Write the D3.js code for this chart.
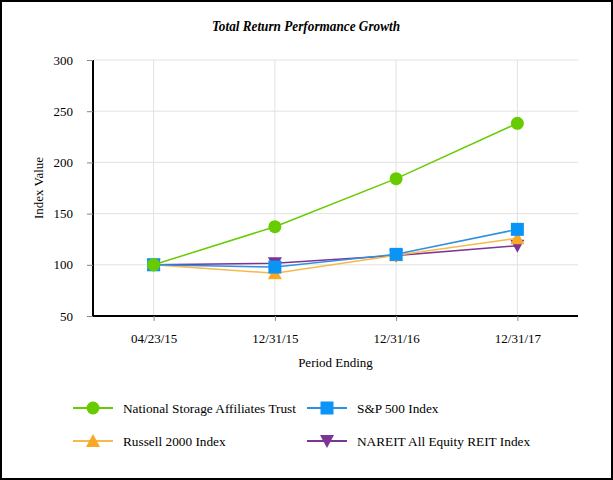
<!DOCTYPE html>
<html><head><meta charset="utf-8">
<script src="https://cdn.jsdelivr.net/npm/d3@7"></script>
<style>body{margin:0;background:#fff;}svg{display:block;} svg text{font-family:"Liberation Serif","Times New Roman",Times,serif;}</style>
</head><body>
<svg id="c" width="613" height="480"></svg>
<script>
const categories = ["04/23/15", "12/31/15", "12/31/16", "12/31/17"];
const seriesNames = ["National Storage Affiliates Trust", "S&P 500 Index", "Russell 2000 Index", "NAREIT All Equity REIT Index"];
const nsaValues = [100, 137.2, 184.1, 238.2];
const spValues = [100, 97.8, 110.2, 134.6];
const russellValues = [100, 91.7, 109.3, 125.9];
const nareitValues = [100, 101.5, 109.0, 118.7];
const yTicks = [50, 100, 150, 200, 250, 300];
const colors = ["#66cc00", "#0a94f5", "#f9a825", "#7b3594"];
const lineColors = ["#66cc00", "#2f8fe0", "#f7b94a", "#7b3594"];
const symbols = ["circle", "square", "triangle", "triangleDown"];

const series = [nsaValues, spValues, russellValues, nareitValues].map((v, i) => ({
  name: seriesNames[i], values: v, color: colors[i], line: lineColors[i], symbol: symbols[i]
}));

const svg = d3.select("#c");
svg.append("rect").attr("x", 1).attr("y", 1).attr("width", 611).attr("height", 478)
  .attr("fill", "#fff").attr("stroke", "#000").attr("stroke-width", 2);

const L = 93, R = 578, T = 60, B = 316;
const x = d3.scalePoint().domain(categories).range([L, R]).padding(0.5);
const y = d3.scaleLinear().domain([50, 300]).range([B, T]);

svg.append("text").attr("x", 306).attr("y", 31).attr("text-anchor", "middle")
  .attr("textLength", 188).attr("lengthAdjust", "spacingAndGlyphs")
  .style("font-size", "14.5px").style("font-weight", "bold").style("font-style", "italic")
  .text("Total Return Performance Growth");

// grid
svg.append("g").selectAll("line").data(yTicks).join("line")
  .attr("x1", L).attr("x2", R).attr("y1", d => y(d)).attr("y2", d => y(d))
  .attr("stroke", "#e2e2e2").attr("stroke-width", 1);
svg.append("g").selectAll("line").data(categories).join("line")
  .attr("x1", d => x(d)).attr("x2", d => x(d)).attr("y1", T).attr("y2", B)
  .attr("stroke", "#e2e2e2").attr("stroke-width", 1);

// axes
const yAxis = d3.axisLeft(y).tickValues(yTicks).tickSize(6).tickPadding(14);
const gy = svg.append("g").attr("transform", `translate(${L},0)`).call(yAxis);
gy.attr("font-family", null);
gy.select(".domain").attr("stroke", "#000").attr("stroke-width", 2).attr("d", `M0,${T}V${B}`);
gy.selectAll(".tick line").attr("stroke", "#888");
gy.selectAll("text").style("font-size", "13px").attr("fill", "#000");

const xAxis = d3.axisBottom(x).tickSize(5).tickPadding(13);
const gx = svg.append("g").attr("transform", `translate(0,${B})`).call(xAxis);
gx.attr("font-family", null);
gx.select(".domain").attr("stroke", "#000").attr("stroke-width", 2).attr("d", `M${L},0H${R}`);
gx.selectAll(".tick line").attr("stroke", "#888");
gx.selectAll("text").style("font-size", "13px").attr("fill", "#000");

svg.append("text").attr("x", (L + R) / 2).attr("y", 367).attr("text-anchor", "middle")
  .style("font-size", "13px").text("Period Ending");
svg.append("text").attr("transform", `translate(43,${(T + B) / 2}) rotate(-90)`).attr("text-anchor", "middle")
  .style("font-size", "13px").text("Index Value");

function marker(g, s, cx, cy) {
  if (s.symbol === "circle") {
    g.append("circle").attr("cx", cx).attr("cy", cy).attr("r", 6.5).attr("fill", s.color);
  } else if (s.symbol === "square") {
    g.append("rect").attr("x", cx - 6.5).attr("y", cy - 6.5).attr("width", 13).attr("height", 13).attr("fill", s.color);
  } else if (s.symbol === "triangle") {
    g.append("path").attr("d", `M${cx},${cy - 7}L${cx + 7},${cy + 6}L${cx - 7},${cy + 6}Z`).attr("fill", s.color);
  } else {
    g.append("path").attr("d", `M${cx},${cy + 7}L${cx + 7},${cy - 6}L${cx - 7},${cy - 6}Z`).attr("fill", s.color);
  }
}

const line = d3.line().x((d, i) => x(categories[i])).y(d => y(d));
const plot = svg.append("g");
series.slice().reverse().forEach(s => {
  const g = plot.append("g");
  g.append("path").attr("d", line(s.values)).attr("fill", "none").attr("stroke", s.line).attr("stroke-width", 1.5);
  s.values.forEach((v, i) => marker(g, s, x(categories[i]), y(v)));
});

// legend
const legPos = [[73, 408], [307, 408], [73, 441], [307, 441]];
series.forEach((s, i) => {
  const [lx, ly] = legPos[i];
  const g = svg.append("g");
  g.append("line").attr("x1", lx).attr("x2", lx + 40).attr("y1", ly).attr("y2", ly).attr("stroke", s.line).attr("stroke-width", 2);
  marker(g, s, lx + 20, ly);
  g.append("text").attr("x", lx + 50).attr("y", ly + 4.5).style("font-size", "13.3px").text(s.name);
});
</script>
</body></html>
